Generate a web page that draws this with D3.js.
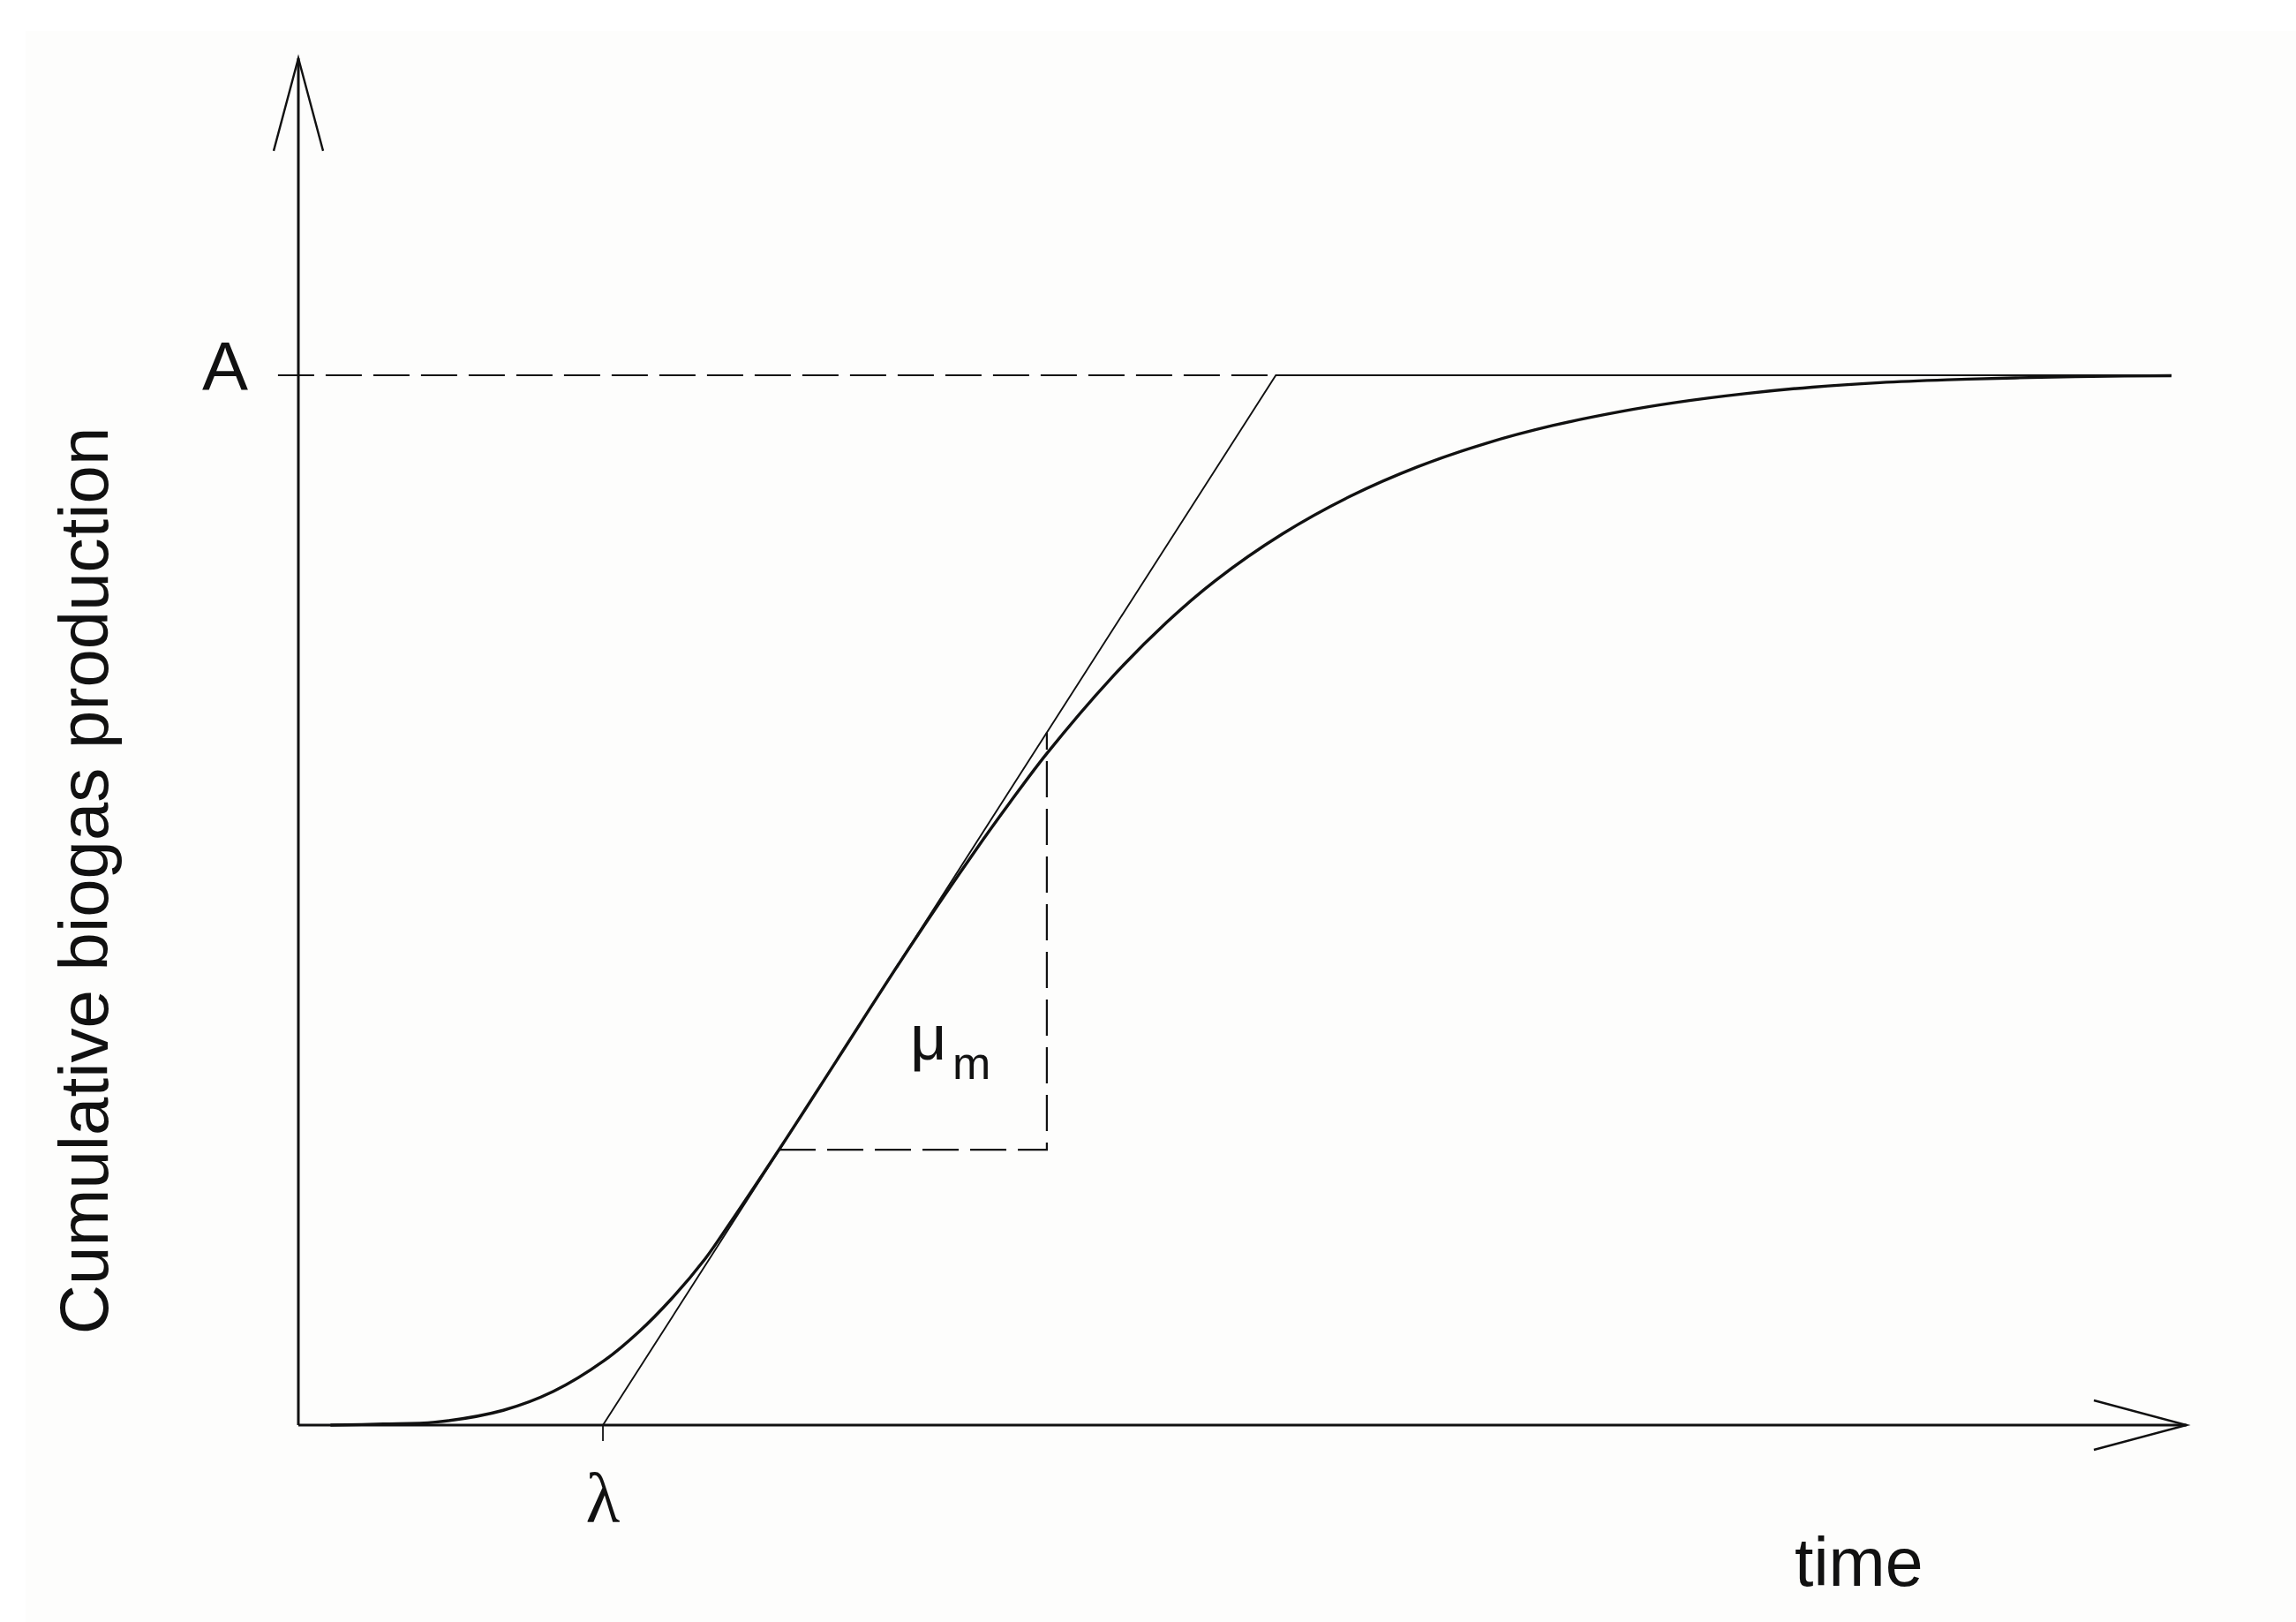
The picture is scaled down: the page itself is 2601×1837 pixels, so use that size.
<!DOCTYPE html>
<html>
<head>
<meta charset="utf-8">
<script src="https://cdn.jsdelivr.net/npm/d3@7"></script>
<style>
  html, body { margin: 0; padding: 0; background: #ffffff; }
  svg { display: block; }
</style>
</head>
<body>
<script>
// ---------------- data ----------------
// time in arbitrary units (x axis 0..100), cumulative production in % of A
const curveTime  = [1.7, 4.5, 7.25, 10.85, 13.51, 16.18, 18.0, 19.78, 21.55, 22.44, 25.48, 28.5,
                    32.35, 35.9, 37.68, 39.64, 43.06, 46.0, 48.55, 52.13, 55.71, 59.28, 62.87,
                    66.43, 70.03, 73.02, 76.6, 80.18, 83.76, 87.33, 90.93, 95.0, 99.2];
const curveValue = [0, 0.1, 0.28, 1.41, 3.21, 6.12, 8.83, 12.07, 15.86, 18.13, 26.3, 34.71,
                    45.44, 54.84, 59.29, 63.97, 71.17, 76.49, 80.42, 84.9, 88.47, 91.28, 93.5,
                    95.21, 96.54, 97.42, 98.24, 98.87, 99.3, 99.57, 99.75, 99.89, 99.96];
const A = 100;              // asymptote
const lambda = 16.13;       // lag time
const muM = 2.806;          // maximum rate (slope of tangent)
const plateauEnd = 99.2;    // end of tangent plateau line
const muTriangle = [25.48, 39.64];   // times of the slope triangle corners
const xAxisEnd = 100;
const yAxisEnd = 130.2;
const aLineStart = -1.08;
const labels = { y: "Cumulative biogas production", x: "time", A: "A", lambda: "λ", mu: "μ", muSub: "m" };

// ---------------- drawing ----------------
const W = 2601, H = 1837;
const svg = d3.select("body").append("svg").attr("width", W).attr("height", H);

svg.append("rect").attr("x", 0).attr("y", 0).attr("width", W).attr("height", H).attr("fill", "#ffffff");
svg.append("rect").attr("x", 29).attr("y", 35).attr("width", W - 29).attr("height", H - 35).attr("fill", "#fdfdfc");

const x = d3.scaleLinear().domain([0, xAxisEnd]).range([338, 2477]);
const y = d3.scaleLinear().domain([0, A]).range([1614, 425]);

const ink = "#111111";

// axes with open arrowheads
const g = svg.append("g");
g.append("line").attr("x1", x(0)).attr("y1", y(0)).attr("x2", x(0)).attr("y2", y(yAxisEnd))
  .attr("stroke", ink).attr("stroke-width", 3);
g.append("line").attr("x1", x(0)).attr("y1", y(0)).attr("x2", x(xAxisEnd)).attr("y2", y(0))
  .attr("stroke", ink).attr("stroke-width", 3);

const arrowLen = 105, arrowHalf = 28;
g.append("path")
  .attr("d", d3.line()([[x(0) - arrowHalf, y(yAxisEnd) + arrowLen], [x(0), y(yAxisEnd)], [x(0) + arrowHalf, y(yAxisEnd) + arrowLen]]))
  .attr("fill", "none").attr("stroke", ink).attr("stroke-width", 2.4);
g.append("path")
  .attr("d", d3.line()([[x(xAxisEnd) - arrowLen, y(0) - arrowHalf], [x(xAxisEnd), y(0)], [x(xAxisEnd) - arrowLen, y(0) + arrowHalf]]))
  .attr("fill", "none").attr("stroke", ink).attr("stroke-width", 2.4);

// dashed A line
const tA = lambda + A / muM;
g.append("line").attr("x1", x(aLineStart)).attr("y1", y(A)).attr("x2", x(tA)).attr("y2", y(A))
  .attr("stroke", ink).attr("stroke-width", 2.2).attr("stroke-dasharray", "41,13");

// tangent + plateau (thin line)
g.append("path")
  .attr("d", d3.line().x(d => x(d[0])).y(d => y(d[1]))([[lambda, 0], [tA, A], [plateauEnd, A]]))
  .attr("fill", "none").attr("stroke", ink).attr("stroke-width", 1.9);

// lambda tick
g.append("line").attr("x1", x(lambda)).attr("y1", y(0)).attr("x2", x(lambda)).attr("y2", y(0) + 18)
  .attr("stroke", ink).attr("stroke-width", 1.8);

// slope triangle (dashed)
const t1 = muTriangle[0], t2 = muTriangle[1];
const v1 = muM * (t1 - lambda), v2 = muM * (t2 - lambda);
g.append("path")
  .attr("d", d3.line().x(d => x(d[0])).y(d => y(d[1]))([[t1, v1], [t2, v1], [t2, v2]]))
  .attr("fill", "none").attr("stroke", ink).attr("stroke-width", 2.2).attr("stroke-dasharray", "41,13");

// growth curve
const pts = curveTime.map((t, i) => [t, curveValue[i]]);
g.append("path")
  .attr("d", d3.line().x(d => x(d[0])).y(d => y(d[1])).curve(d3.curveCatmullRom.alpha(0.5))(pts))
  .attr("fill", "none").attr("stroke", ink).attr("stroke-width", 3.4);

// texts
const sans = "'Liberation Sans', Arial, sans-serif";
svg.append("text").attr("transform", "translate(122,997.5) rotate(-90)")
  .attr("text-anchor", "middle").attr("font-family", sans).attr("font-size", 78).attr("fill", ink)
  .text(labels.y);
svg.append("text").attr("x", 2033).attr("y", 1796)
  .attr("font-family", sans).attr("font-size", 77).attr("fill", ink).text(labels.x);
svg.append("text").attr("x", 229).attr("y", 442)
  .attr("font-family", sans).attr("font-size", 78).attr("fill", ink).text(labels.A);
svg.append("text").attr("x", x(lambda)).attr("y", 1724).attr("text-anchor", "middle")
  .attr("font-family", "'Liberation Serif', 'DejaVu Serif', serif").attr("font-size", 80).attr("fill", ink)
  .text(labels.lambda);
svg.append("text").attr("x", 1031).attr("y", 1200)
  .attr("font-family", sans).attr("font-size", 72).attr("fill", ink).text(labels.mu);
svg.append("text").attr("x", 1079).attr("y", 1222)
  .attr("font-family", sans).attr("font-size", 52).attr("fill", ink).text(labels.muSub);
</script>
</body>
</html>
